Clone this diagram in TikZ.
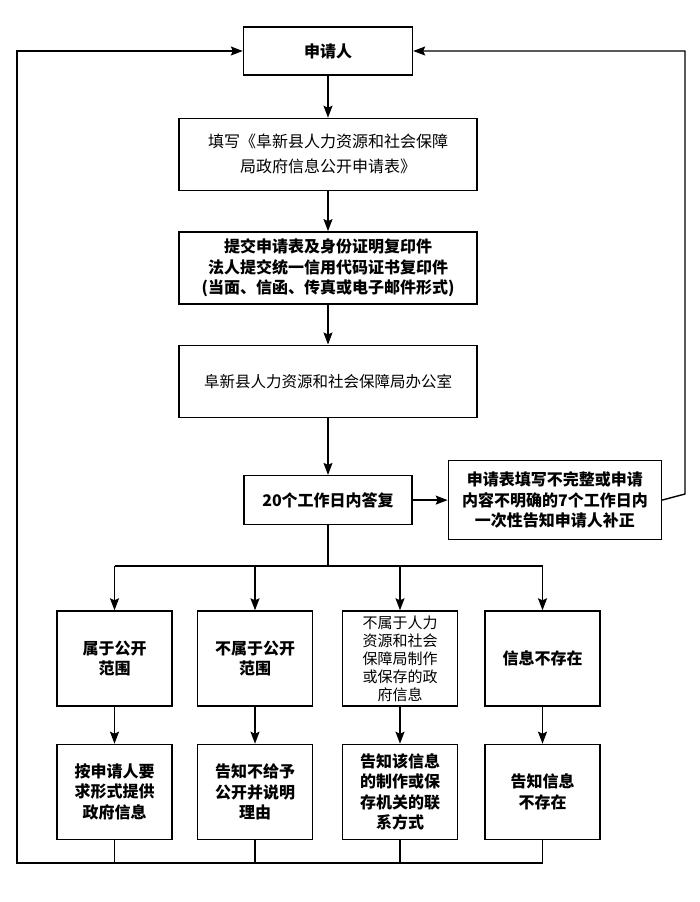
\documentclass[tikz,border=0pt]{standalone}
\usepackage{fontspec}
\usepackage{tikz}
\usetikzlibrary{arrows.meta, positioning}
\newfontfamily\cjk{Noto Sans CJK SC}
\tikzset{
    flow-box/.style = {draw=black, fill=white, line width=1.4pt, rectangle, inner sep=2pt, align=center, font=\cjk\fontsize{16}{20.5}\selectfont},
    flow-box-bold/.style = {flow-box, font=\cjk\bfseries\fontsize{16}{20.5}\selectfont},
    flow-line/.style = {draw=black, line width=1.4pt},
    flow-arrow/.style = {flow-line, -{Stealth[length=12pt, width=9pt, inset=2pt]}},
}

\begin{document}
\begin{tikzpicture}[x=1pt, y=-1pt]
\useasboundingbox (0,0) rectangle (700,902);

% main column
\node [flow-box-bold, minimum width=169pt, minimum height=48pt] (applicant) at (328,51) {申请人};
\node [flow-box, minimum width=298pt, minimum height=72pt, font=\cjk\fontsize{16}{25}\selectfont, below=42pt of applicant] (form) {填写《阜新县人力资源和社会保障\\局政府信息公开申请表》};
\node [flow-box-bold, minimum width=298pt, minimum height=72pt, below=40pt of form] (submit) {提交申请表及身份证明复印件\\法人提交统一信用代码证书复印件\\(当面、信函、传真或电子邮件形式)};
\node [flow-box, minimum width=298pt, minimum height=72pt, font=\cjk\fontsize{15.5}{20}\selectfont, below=40pt of submit] (office) {阜新县人力资源和社会保障局办公室};
\node [flow-box-bold, minimum width=168pt, minimum height=49pt, below=57pt of office] (reply) {20个工作日内答复};
\node [flow-box-bold, minimum width=213pt, minimum height=79pt, right=35pt of reply] (supplement) {申请表填写不完整或申请\\内容不明确的7个工作日内\\一次性告知申请人补正};

% four cases
\node [flow-box-bold, minimum width=115pt, minimum height=95pt] (open) at (114.5,658.5) {属于公开\\范围};
\node [flow-box-bold, minimum width=115pt, minimum height=95pt] (not-open) at (255,658.5) {不属于公开\\范围};
\node [flow-box, minimum width=115pt, minimum height=95pt, font=\cjk\fontsize{15}{18}\selectfont] (other-org) at (400,658.5) {不属于人力\\资源和社会\\保障局制作\\或保存的政\\府信息};
\node [flow-box-bold, minimum width=115pt, minimum height=95pt] (absent) at (542.5,658.5) {信息不存在};

\node [flow-box-bold, minimum width=115pt, minimum height=95pt, below=37pt of open] (provide) {按申请人要\\求形式提供\\政府信息};
\node [flow-box-bold, minimum width=115pt, minimum height=95pt, below=37pt of not-open] (refuse) {告知不给予\\公开并说明\\理由};
\node [flow-box-bold, minimum width=115pt, minimum height=95pt, below=37pt of other-org] (redirect) {告知该信息\\的制作或保\\存机关的联\\系方式};
\node [flow-box-bold, minimum width=115pt, minimum height=95pt, below=37pt of absent] (notify-absent) {告知信息\\不存在};

\coordinate (split) at (328,566);
\coordinate (loop-right) at (685,494);
\coordinate (loop-left) at (17,863);

\draw [flow-arrow] (applicant) -- (form);
\draw [flow-arrow] (form) -- (submit);
\draw [flow-arrow] (submit) -- (office);
\draw [flow-arrow] (office) -- (reply);
\draw [flow-arrow] (reply) -- (supplement);
\draw [flow-arrow] (supplement.east) -- (loop-right) |- (applicant.east);

\draw [flow-line] (reply.south) -- (split);
\draw [flow-line] (split -| open.north) -- (split -| absent.north);
\foreach \top/\bottom in {open/provide, not-open/refuse, other-org/redirect, absent/notify-absent} {
    \draw [flow-arrow] (split -| \top.north) -- (\top.north);
    \draw [flow-arrow] (\top) -- (\bottom);
    \draw [flow-line] (\bottom.south) -- (\bottom.south |- loop-left);
}
\draw [flow-arrow] (notify-absent.south |- loop-left) -- (loop-left) |- (applicant.west);
\end{tikzpicture}
\end{document}
